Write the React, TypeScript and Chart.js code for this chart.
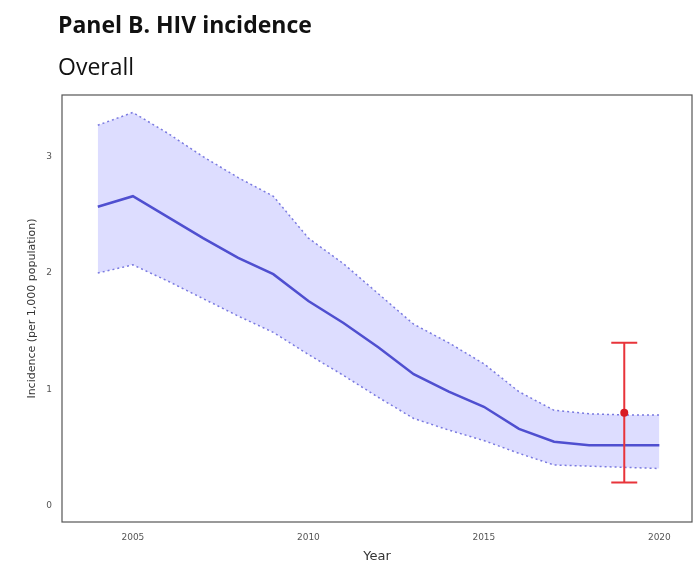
import React, { useEffect, useRef } from 'react';
import Chart from 'chart.js/auto';

const years = [2004, 2005, 2006, 2007, 2008, 2009, 2010, 2011, 2012, 2013, 2014, 2015, 2016, 2017, 2018, 2019, 2020];
const meanInc = [2.57, 2.66, 2.48, 2.3, 2.13, 1.99, 1.76, 1.57, 1.36, 1.13, 0.98, 0.85, 0.66, 0.55, 0.52, 0.52, 0.52];
const upperInc = [3.27, 3.38, 3.2, 3.0, 2.82, 2.66, 2.3, 2.08, 1.82, 1.56, 1.4, 1.22, 0.98, 0.82, 0.79, 0.78, 0.78];
const lowerInc = [2.0, 2.07, 1.93, 1.78, 1.63, 1.49, 1.3, 1.12, 0.93, 0.75, 0.65, 0.56, 0.45, 0.35, 0.34, 0.33, 0.32];
const obsYear = 2019;
const obsValue = 0.8;
const obsLow = 0.2;
const obsHigh = 1.4;
const xTicks = [2005, 2010, 2015, 2020];
const yTicks = [0, 1, 2, 3];

const App = () => {
  const canvasRef = useRef<HTMLCanvasElement | null>(null);

  useEffect(() => {
    document.body.style.margin = '0';
    if (!canvasRef.current) return;
    // panel border + red error bar from the observed estimate
    const extras = {
      id: 'extras',
      afterDatasetsDraw(chart: any) {
        const { ctx, chartArea, scales } = chart;
        const x = scales.x.getPixelForValue(obsYear);
        const capL = scales.x.getPixelForValue(obsYear - 0.37);
        const capR = scales.x.getPixelForValue(obsYear + 0.37);
        const yLo = scales.y.getPixelForValue(obsLow);
        const yHi = scales.y.getPixelForValue(obsHigh);
        const yV = scales.y.getPixelForValue(obsValue);
        ctx.save();
        ctx.strokeStyle = '#e8343a';
        ctx.lineWidth = 2;
        ctx.beginPath();
        ctx.moveTo(x, yLo); ctx.lineTo(x, yHi);
        ctx.moveTo(capL, yLo); ctx.lineTo(capR, yLo);
        ctx.moveTo(capL, yHi); ctx.lineTo(capR, yHi);
        ctx.stroke();
        ctx.fillStyle = '#d81b25';
        ctx.beginPath();
        ctx.arc(x, yV, 4, 0, Math.PI * 2);
        ctx.fill();
        ctx.strokeStyle = '#555';
        ctx.lineWidth = 1.2;
        ctx.strokeRect(chartArea.left, chartArea.top, chartArea.right - chartArea.left, chartArea.bottom - chartArea.top);
        ctx.restore();
      },
    };
    const pts = (v: number[]) => years.map((y, i) => ({ x: y, y: v[i] }));
    const chart = new Chart(canvasRef.current, {
      type: 'line',
      data: {
        datasets: [
          { data: pts(upperInc), borderColor: '#7a7ae0', borderWidth: 1.5, borderDash: [2, 3], pointRadius: 0, fill: false, order: 2 },
          { data: pts(lowerInc), borderColor: '#7a7ae0', borderWidth: 1.5, borderDash: [2, 3], pointRadius: 0, fill: '-1', backgroundColor: 'rgba(215,215,255,0.85)', order: 1 },
          { data: pts(meanInc), borderColor: '#4f4fd0', borderWidth: 2.5, pointRadius: 0, fill: false, order: 0 },
        ],
      },
      options: {
        animation: false,
        responsive: false,
        layout: { padding: { top: 95, right: 6, left: 24 } },
        plugins: { legend: { display: false }, tooltip: { enabled: false }, filler: { drawTime: 'beforeDatasetsDraw' } } as any,
        scales: {
          x: {
            type: 'linear', min: 2002.98, max: 2020.93,
            afterBuildTicks: (s: any) => { s.ticks = xTicks.map(v => ({ value: v })); },
            afterFit: (s: any) => { s.height = 48; },
            grid: { display: false, drawTicks: true, tickLength: 4 },
            border: { display: false },
            ticks: { color: '#555', font: { family: 'DejaVu Sans', size: 9 }, maxRotation: 0, padding: 6, callback: (v: any) => String(v) },
            title: { display: true, text: 'Year', color: '#333', font: { family: 'DejaVu Sans', size: 13 }, padding: { top: 0, bottom: 6 } },
          },
          y: {
            min: -0.14, max: 3.53,
            afterBuildTicks: (s: any) => { s.ticks = yTicks.map(v => ({ value: v })); },
            afterFit: (s: any) => { s.width = 38; },
            grid: { display: false, drawTicks: true, tickLength: 4 },
            border: { display: false },
            ticks: { color: '#555', font: { family: 'DejaVu Sans', size: 9 }, padding: 6 },
            title: { display: true, text: 'Incidence (per 1,000 population)', color: '#333', font: { family: 'DejaVu Sans', size: 11 }, padding: 2 },
          },
        },
      },
      plugins: [extras],
    });
    return () => chart.destroy();
  }, []);

  return (
    <div style={{ position: 'relative', width: 698, height: 570, background: '#fff', fontFamily: '"Open Sans", sans-serif' }}>
      <canvas ref={canvasRef} width={698} height={570} style={{ position: 'absolute', left: 0, top: 0 }}></canvas>
      <div style={{ position: 'absolute', left: 58, top: 8, fontSize: 23, fontWeight: 700, color: '#111' }}>Panel B. HIV incidence</div>
      <div style={{ position: 'absolute', left: 58, top: 50, fontSize: 23, color: '#111' }}>Overall</div>
    </div>
  );
};

export default App;
